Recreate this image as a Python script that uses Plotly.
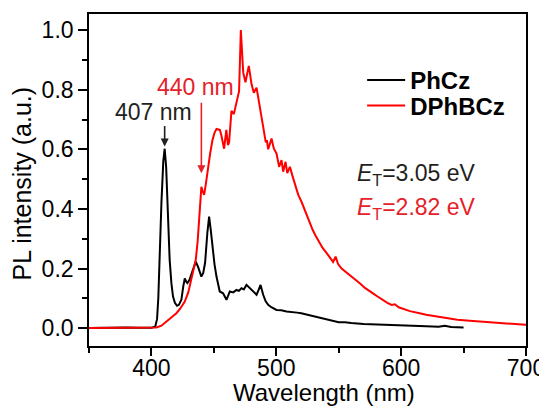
import plotly.graph_objects as go

# PhCz (black) phosphorescence spectrum
wl_phcz = [350, 360, 370, 380, 390, 400, 403, 404.5, 405.5, 406.6, 408, 409.5, 410.6, 411.8, 413,
           414.6, 416, 417.3, 418.8, 420.5, 422, 424, 425.5, 426.7, 428, 428.8, 430.5, 432, 434,
           435.5, 437.3, 439, 440, 441.5, 443, 444.8, 446.2, 447.5, 448.9, 450.5, 452.1, 454.7,
           457.4, 460.1, 462.8, 465.5, 468.1, 470, 472.1, 474, 476.1, 478, 480.1, 482, 484.2, 486,
           487.4, 489.5, 491.5, 493.5, 496, 500.2, 504, 508.2, 512, 516.6, 520, 525, 530, 535, 540,
           545, 550, 555, 560, 570, 580, 590, 600, 610, 620, 630, 635, 640, 650]
int_phcz = [0.0, 0.001, 0.0, 0.002, 0.001, 0.001, 0.005, 0.03, 0.1, 0.25, 0.42, 0.56, 0.602, 0.54,
            0.38, 0.229, 0.15, 0.106, 0.085, 0.075, 0.078, 0.095, 0.14, 0.167, 0.155, 0.151, 0.162,
            0.179, 0.205, 0.223, 0.206, 0.183, 0.173, 0.185, 0.22, 0.32, 0.374, 0.33, 0.273, 0.215,
            0.173, 0.123, 0.117, 0.095, 0.123, 0.12, 0.128, 0.125, 0.134, 0.13, 0.145, 0.138, 0.128,
            0.122, 0.112, 0.13, 0.145, 0.112, 0.09, 0.078, 0.07, 0.061, 0.06, 0.056, 0.055, 0.052,
            0.05, 0.045, 0.04, 0.035, 0.03, 0.025, 0.02, 0.02, 0.017, 0.014, 0.012, 0.01, 0.009,
            0.007, 0.006, 0.005, 0.008, 0.004, 0.002]

# DPhBCz (red) phosphorescence spectrum
wl_dph = [350, 370, 390, 400, 404, 408, 412, 416, 420, 423, 426.7, 429.5, 432, 434, 435.5, 437,
          438.1, 439, 440, 441, 442.2, 443.8, 445.4, 447, 448.9, 450.5, 452.1, 454.8, 456, 457.4,
          458.2, 460, 461.3, 462.2, 463.2, 464.1, 466, 468.1, 470.2, 471.6, 472.5, 473.5, 475.3,
          476.5, 478, 480.2, 482, 484.2, 486.3, 488.2, 490, 491.6, 492.5, 493.5, 494.8, 496.2, 498,
          500.2, 502.3, 504.2, 505.5, 507.4, 508.8, 510.9, 513, 514.9, 517.6, 520.2, 522.9, 525.6,
          527.5, 529.2, 531.5, 534, 537, 540.5, 543, 545.5, 547.5, 549.5, 552.3, 556, 560, 563.5,
          567.1, 571, 575, 578, 581.1, 585, 589, 592.4, 595, 598, 602, 607, 614.8, 620, 630, 637.2,
          645, 655, 665.2, 680, 690, 700]
int_dph = [0.0, 0.001, 0.0, 0.001, 0.002, 0.008, 0.022, 0.034, 0.05, 0.065, 0.089, 0.12, 0.162,
           0.2, 0.229, 0.29, 0.363, 0.43, 0.474, 0.46, 0.447, 0.49, 0.541, 0.585, 0.631, 0.655,
           0.668, 0.665, 0.647, 0.623, 0.602, 0.665, 0.614, 0.623, 0.69, 0.729, 0.718, 0.762,
           0.795, 1.0, 0.93, 0.858, 0.825, 0.85, 0.88, 0.818, 0.79, 0.807, 0.757, 0.718, 0.673,
           0.623, 0.631, 0.6, 0.617, 0.636, 0.603, 0.586, 0.541, 0.564, 0.525, 0.558, 0.52, 0.541,
           0.51, 0.486, 0.447, 0.424, 0.396, 0.363, 0.35, 0.329, 0.31, 0.29, 0.27, 0.251, 0.235,
           0.222, 0.24, 0.215, 0.2, 0.188, 0.175, 0.162, 0.15, 0.135, 0.125, 0.115, 0.106, 0.095,
           0.085, 0.078, 0.08, 0.07, 0.063, 0.057, 0.05, 0.045, 0.038, 0.033, 0.028, 0.025, 0.022,
           0.017, 0.014, 0.011]

x_ticks = [400, 500, 600, 700]
y_ticks = [0.0, 0.2, 0.4, 0.6, 0.8, 1.0]
y_ticklabels = ["0.0", "0.2", "0.4", "0.6", "0.8", "1.0"]

FONT = "Liberation Sans, Arial, sans-serif"
BLACK = "#231f20"
RED = "#ff0000"
RED_TEXT = "#e52129"

fig = go.Figure()
fig.add_trace(go.Scatter(x=wl_phcz, y=int_phcz, mode="lines", name="PhCz",
                         line=dict(color="#000000", width=2), legend="legend"))
fig.add_trace(go.Scatter(x=wl_dph, y=int_dph, mode="lines", name="DPhBCz",
                         line=dict(color=RED, width=2), legend="legend2"))

axis_common = dict(showline=True, linecolor="black", linewidth=1.6, mirror=True,
                   ticks="outside", tickcolor="black", tickwidth=1.6, showgrid=False,
                   zeroline=False, automargin=False,
                   tickfont=dict(family=FONT, size=23, color="black"))

fig.update_xaxes(range=[350, 700], tickvals=x_ticks, ticklen=8, ticklabelstandoff=-7,
                 minor=dict(ticks="outside", dtick=50, tick0=350, ticklen=5,
                            tickcolor="black", tickwidth=1.6),
                 **axis_common)
fig.update_yaxes(range=[-0.06, 1.054], tickvals=y_ticks, ticktext=y_ticklabels, ticklen=9,
                 minor=dict(ticks="outside", dtick=0.1, tick0=0, ticklen=5,
                            tickcolor="black", tickwidth=1.6),
                 **axis_common)

legend_common = dict(bgcolor="rgba(0,0,0,0)", borderwidth=0, xanchor="left", yanchor="middle",
                     itemwidth=38, font=dict(family=FONT, size=24, color="black", weight="bold"))

# The page body adds an 8 px offset, so margins are reduced by 8 px on the left and top.
fig.update_layout(
    width=547, height=409,
    margin=dict(l=81, r=29, t=6, b=71, autoexpand=False),
    paper_bgcolor="white", plot_bgcolor="white",
    showlegend=True,
    legend=dict(x=0.625, y=0.80, **legend_common),
    legend2=dict(x=0.625, y=0.723, **legend_common),
)

annotations = [
    # axis titles
    dict(text="Wavelength (nm)", xref="paper", yref="paper", x=0.538, y=-0.14,
         xanchor="center", yanchor="middle", showarrow=False,
         font=dict(family=FONT, size=24, color="black")),
    dict(text="PL intensity (a.u.)", xref="paper", yref="paper", x=-0.153, y=0.49,
         xanchor="center", yanchor="middle", textangle=-90, showarrow=False,
         font=dict(family=FONT, size=25, color="black")),
    # peak labels
    dict(text="407 nm", x=401.8, y=0.725, xref="x", yref="y", showarrow=False,
         xanchor="center", yanchor="middle", font=dict(family=FONT, size=23, color=BLACK)),
    dict(text="", x=410.6, y=0.609, xref="x", yref="y", showarrow=True, ax=0, ay=-22,
         arrowhead=2, arrowsize=1, arrowwidth=1.6, arrowcolor=BLACK),
    dict(text="440 nm", x=435.3, y=0.81, xref="x", yref="y", showarrow=False,
         xanchor="center", yanchor="middle", font=dict(family=FONT, size=23, color=RED_TEXT)),
    dict(text="", x=440, y=0.52, xref="x", yref="y", showarrow=True, ax=0, ay=-72,
         arrowhead=2, arrowsize=1, arrowwidth=1.6, arrowcolor=RED_TEXT),
    # triplet energies
    dict(text="<i>E</i><sub>T</sub>=3.05 eV", x=563, y=0.515, xref="x", yref="y",
         showarrow=False, xanchor="left", yanchor="middle",
         font=dict(family=FONT, size=23, color=BLACK)),
    dict(text="<i>E</i><sub>T</sub>=2.82 eV", x=563, y=0.40, xref="x", yref="y",
         showarrow=False, xanchor="left", yanchor="middle",
         font=dict(family=FONT, size=23, color=RED_TEXT)),
]
fig.update_layout(annotations=annotations)

fig.write_html("out.html")
